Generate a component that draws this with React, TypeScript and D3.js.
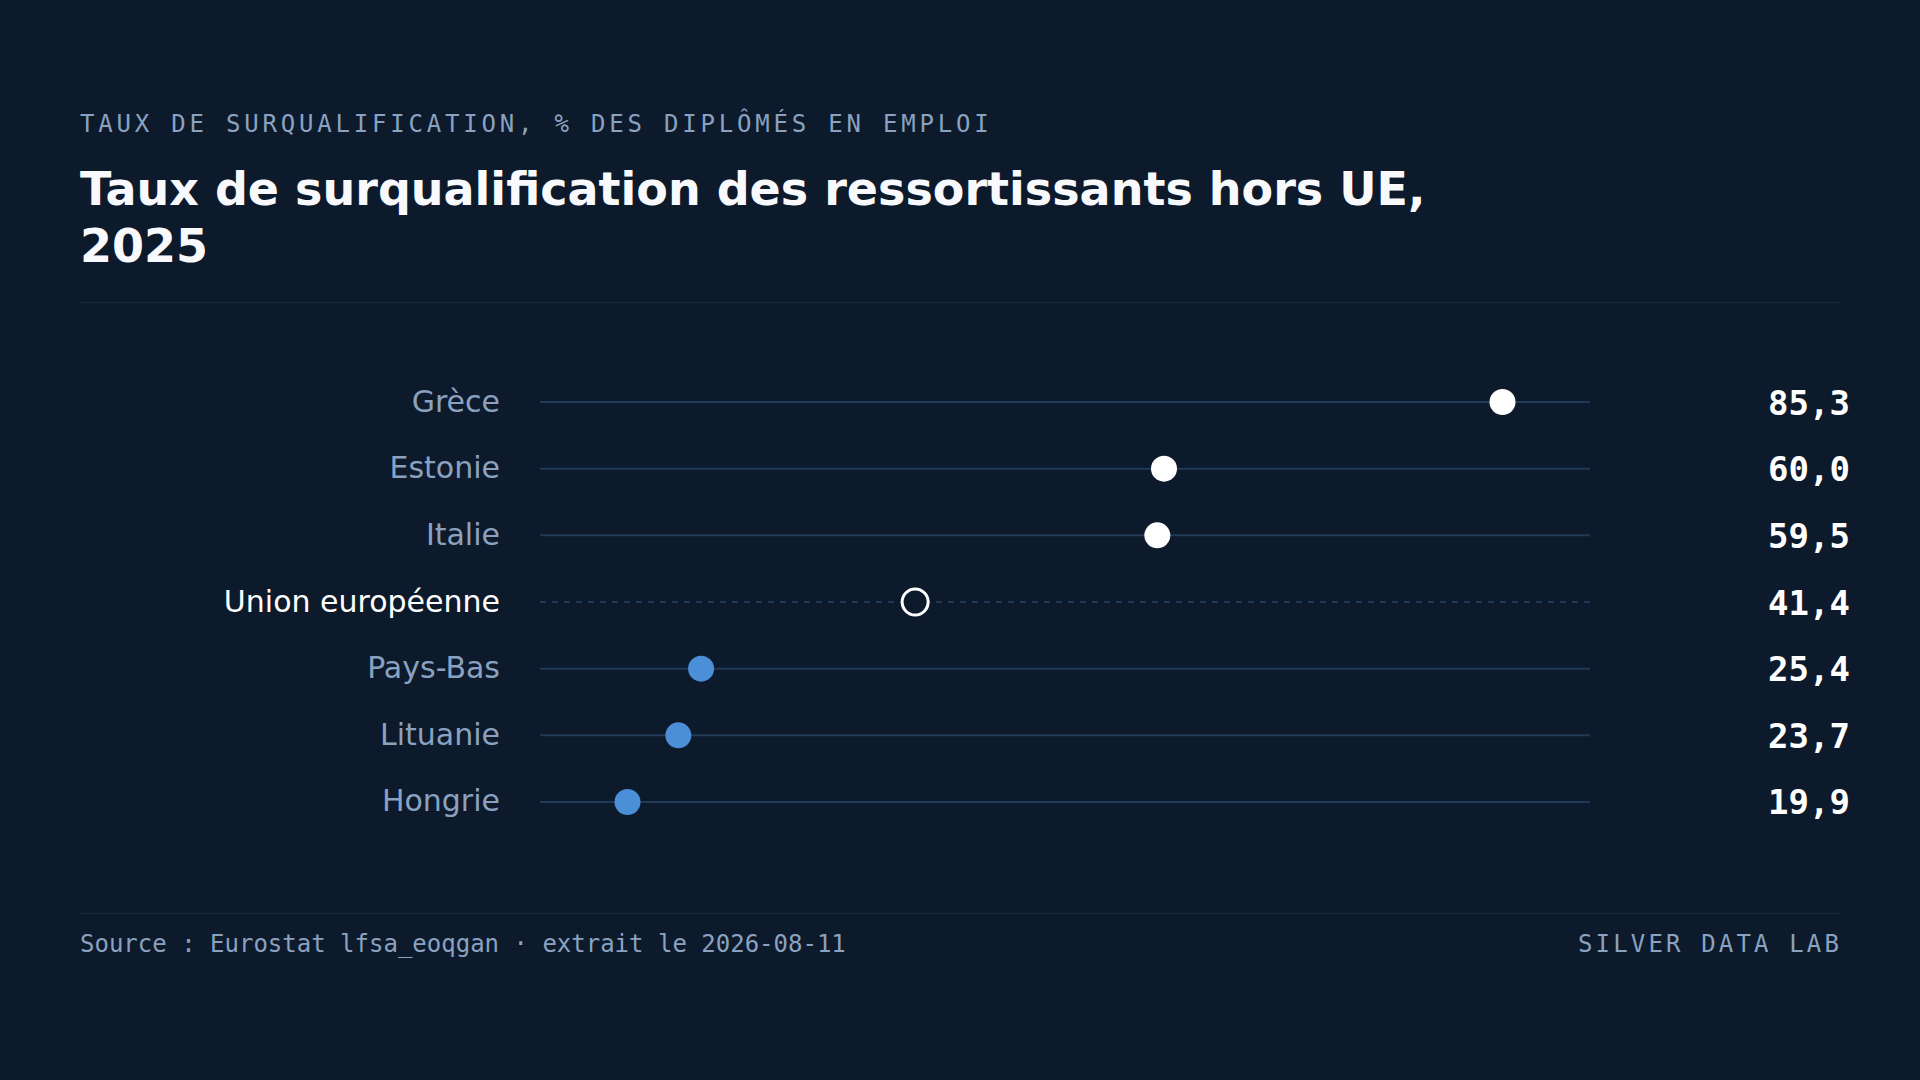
import React from "react";
import * as d3 from "d3";

const countries = ["Grèce", "Estonie", "Italie", "Union européenne", "Pays-Bas", "Lituanie", "Hongrie"];
const values = [85.3, 60.0, 59.5, 41.4, 25.4, 23.7, 19.9];
const groups = ["high", "high", "high", "eu", "low", "low", "low"];

const subtitle = "TAUX DE SURQUALIFICATION, % DES DIPLÔMÉS EN EMPLOI";
const titleLines = ["Taux de surqualification des ressortissants hors UE,", "2025"];
const source = "Source : Eurostat lfsa_eoqgan · extrait le 2026-08-11";
const brand = "SILVER DATA LAB";

const W = 1920;
const H = 1080;
const BG = "#0d1a2b";
const MUTED = "#8aa2c0";
const LINE = "#223a59";
const BLUE = "#4a8fd8";
const WHITE = "#ffffff";
const TITLE = "#f7f9fc";
const MONO = "'DejaVu Sans Mono', monospace";
const SANS = "'DejaVu Sans', sans-serif";

export default function App() {
  const min = d3.min(values) as number;
  const max = d3.max(values) as number;
  const pad = (max - min) * 0.1;
  const x = d3.scaleLinear().domain([min - pad, max + pad]).range([540, 1590]);
  const y = d3.scalePoint<string>().domain(countries).range([368.67, 835.33]).padding(0.5);
  const fmt = (v: number) => v.toFixed(1).replace(".", ",");
  const [x0, x1] = x.range();

  return (
    <svg width={W} height={H} style={{ position: "absolute", left: 0, top: 0, display: "block" }}>
      <rect width={W} height={H} fill={BG} />
      <text x={80} y={132} fill={MUTED} fontFamily={MONO} fontSize={24} letterSpacing={3.8}>
        {subtitle}
      </text>
      {titleLines.map((t, i) => (
        <text key={i} x={80} y={205 + i * 56.7} fill={TITLE} fontFamily={SANS} fontWeight="bold" fontSize={46}>
          {t}
        </text>
      ))}
      <line x1={80} x2={1840} y1={302.5} y2={302.5} stroke="#18283c" strokeWidth={1} />

      {countries.map((c, i) => {
        const cy = y(c) as number;
        const g = groups[i];
        const isEu = g === "eu";
        return (
          <g key={c}>
            <line
              x1={x0}
              x2={x1}
              y1={cy}
              y2={cy}
              stroke={LINE}
              strokeWidth={2}
              strokeDasharray={isEu ? "6 6" : undefined}
            />
            <text
              x={500}
              y={cy + 9.5}
              textAnchor="end"
              fill={isEu ? WHITE : MUTED}
              fontFamily={SANS}
              fontSize={30}
            >
              {c}
            </text>
            {isEu ? (
              <circle cx={x(values[i])} cy={cy} r={13} fill={BG} stroke={WHITE} strokeWidth={3} />
            ) : (
              <circle cx={x(values[i])} cy={cy} r={13} fill={g === "high" ? WHITE : BLUE} />
            )}
            <text
              x={1850}
              y={cy + 12.5}
              textAnchor="end"
              fill={WHITE}
              fontFamily={MONO}
              fontWeight="bold"
              fontSize={34}
            >
              {fmt(values[i])}
            </text>
          </g>
        );
      })}

      <line x1={80} x2={1840} y1={913.5} y2={913.5} stroke="#18283c" strokeWidth={1} />
      <text x={80} y={951.5} fill={MUTED} fontFamily={MONO} fontSize={24}>
        {source}
      </text>
      <text x={1842} y={951.5} textAnchor="end" fill={MUTED} fontFamily={MONO} fontSize={24} letterSpacing={3.15}>
        {brand}
      </text>
    </svg>
  );
}
